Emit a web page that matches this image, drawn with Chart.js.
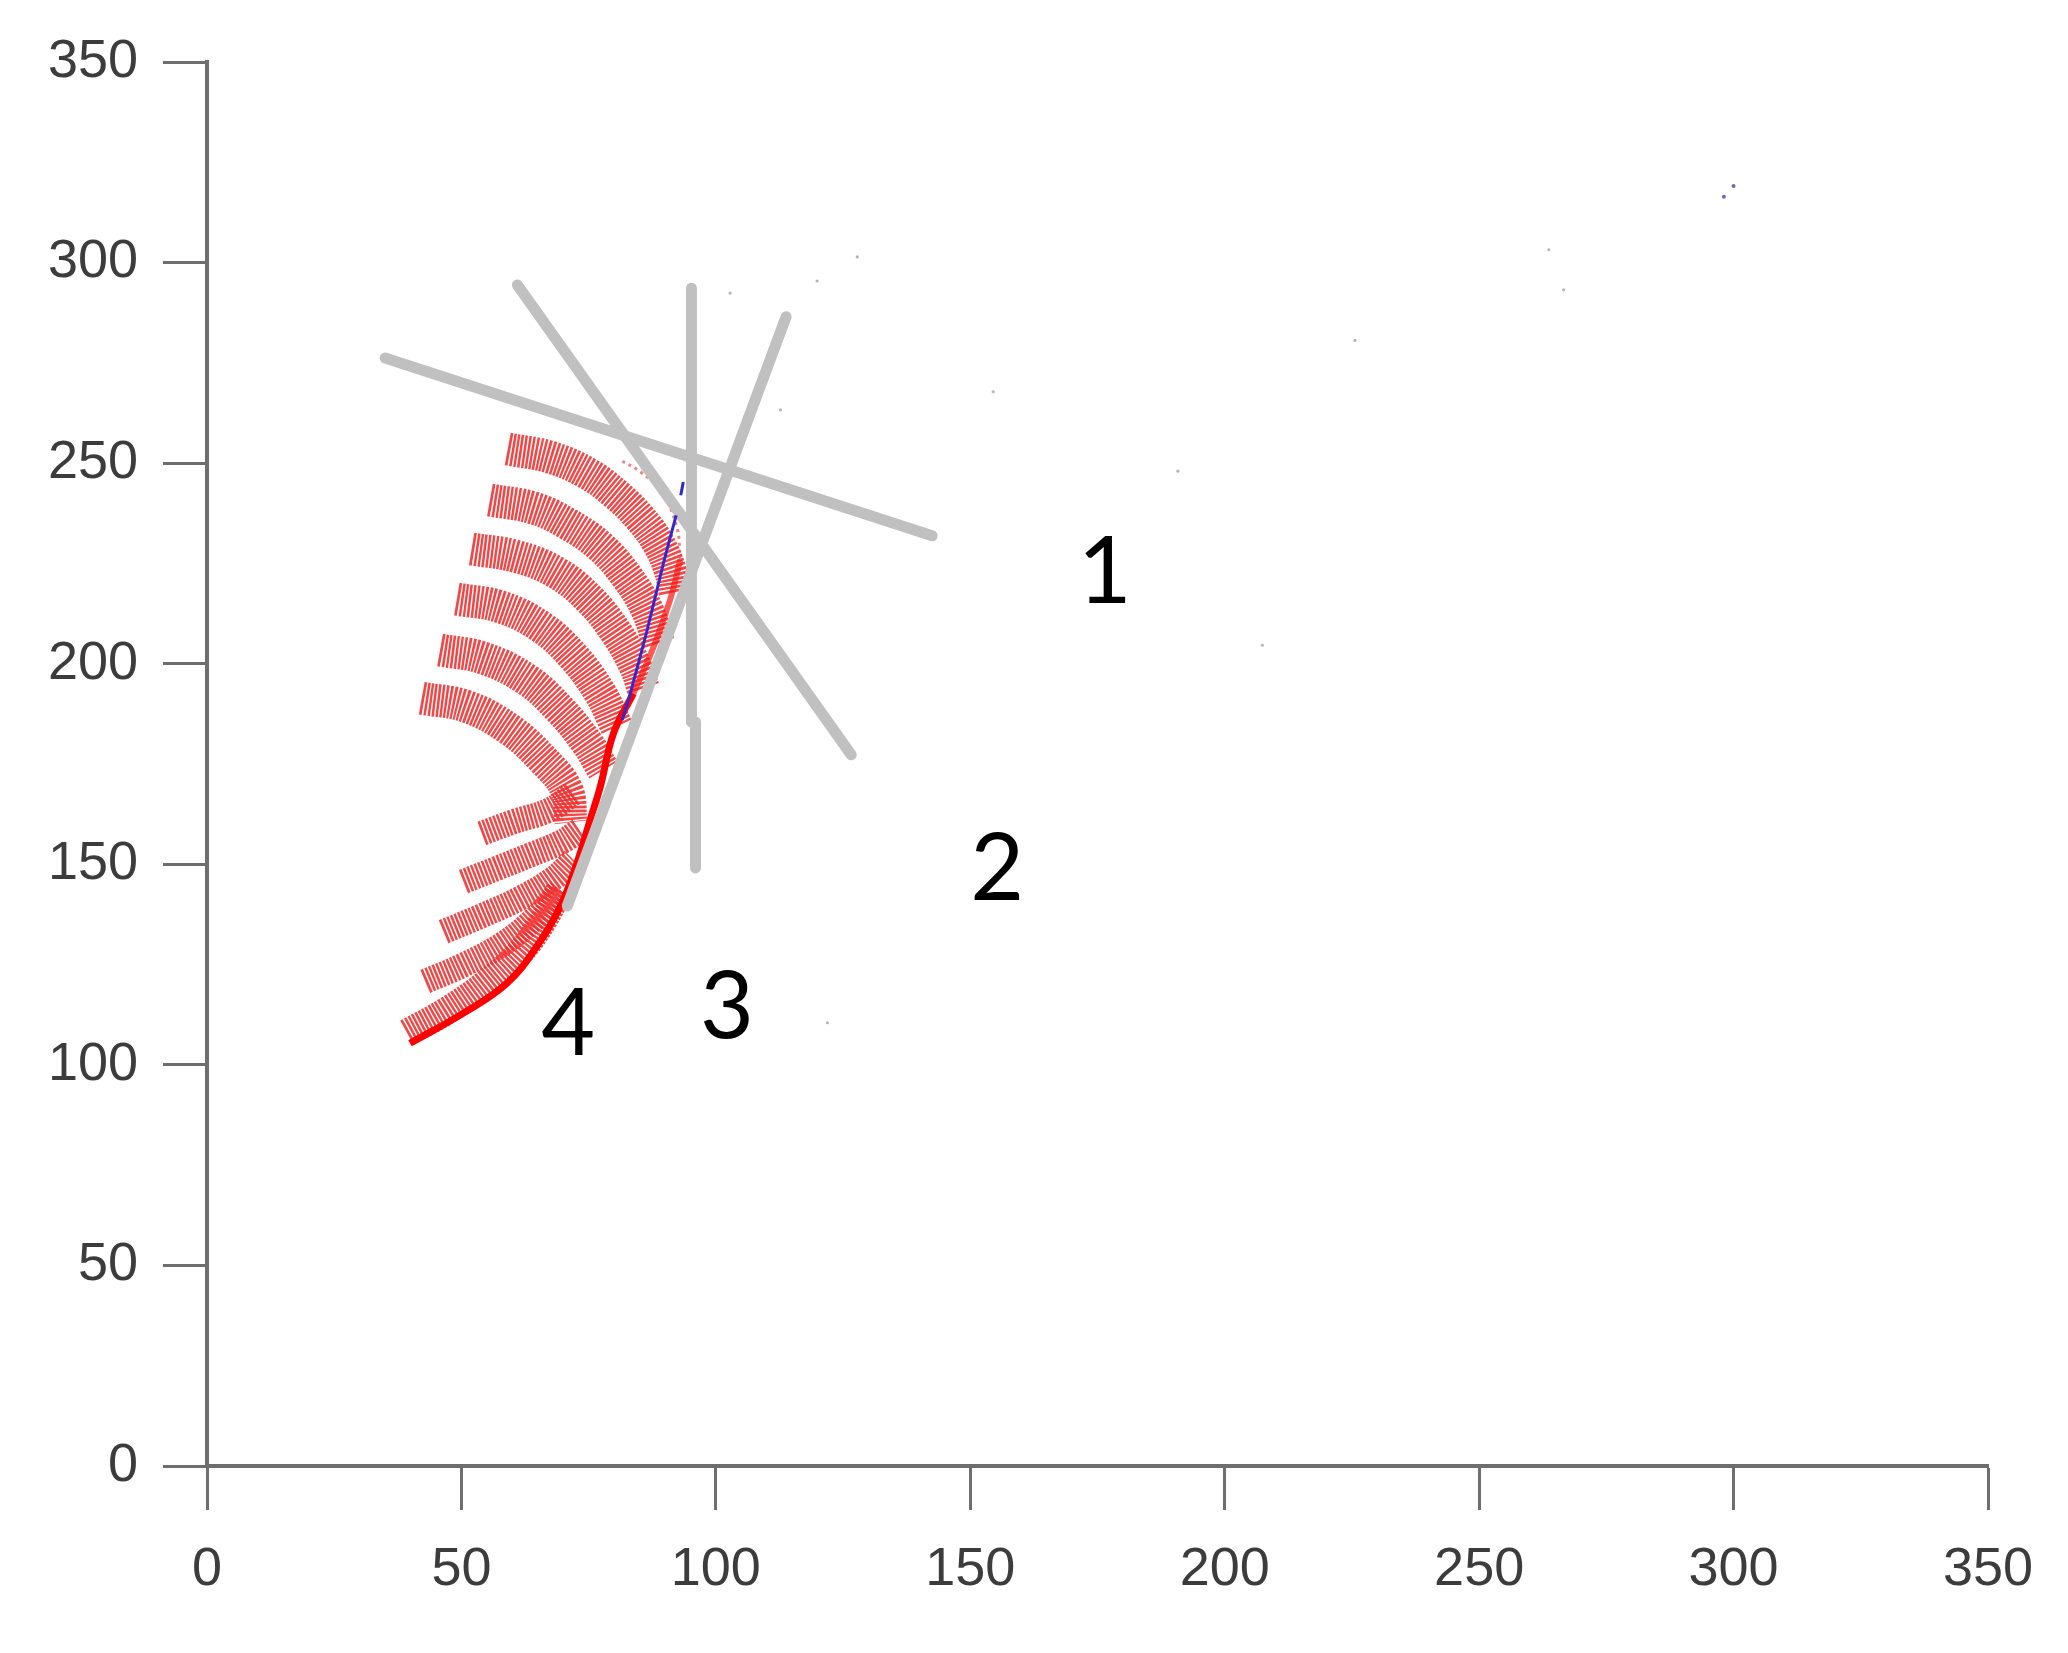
<!DOCTYPE html>
<html>
<head>
<meta charset="utf-8">
<script src="https://cdn.jsdelivr.net/npm/chart.js@4/dist/chart.umd.min.js"></script>
<style>
  html, body { margin: 0; padding: 0; background: #fff; }
</style>
</head>
<body>
<canvas id="beamChart" width="2068" height="1653"></canvas>
<script>
// axis ticks
var tickValues = [0, 50, 100, 150, 200, 250, 300, 350];

// upper family of hatched arcs (x, y)
var upperArc1 = [[59.1,253.5],[67.4,251.5],[74.7,247.5],[80.5,242.1],[85.1,236.3],[88.7,230.0],[91.0,223.4],[92.0,217.6]];
var upperArc2 = [[55.6,240.8],[64.2,238.8],[70.7,235.0],[77.3,229.2],[82.5,221.7],[86.5,213.4],[88.7,205.1]];
var upperArc3 = [[52.0,228.6],[60.9,226.7],[68.8,222.6],[75.3,215.9],[80.5,207.6],[84.2,199.3],[85.8,193.5]];
var upperArc4 = [[49.1,216.1],[57.6,214.2],[65.5,209.3],[72.0,201.8],[77.3,192.6],[80.5,184.3]];
var upperArc5 = [[45.8,203.4],[54.3,201.4],[62.9,196.0],[69.4,188.5],[74.7,180.2],[77.9,173.5]];
var upperArc6 = [[42.2,191.4],[51.1,189.3],[59.6,183.5],[66.1,176.0],[70.7,168.5],[71.5,160.5]];

// lower family of hatched arcs
var lowerArc1 = [[54.0,157.7],[60.2,160.6],[67.4,163.6],[72.0,167.7]];
var lowerArc2 = [[50.4,145.7],[57.0,149.0],[63.5,152.3],[69.7,155.6],[73.3,158.6]];
var lowerArc3 = [[46.5,133.2],[53.7,137.0],[61.5,141.5],[68.1,146.5],[72.0,151.1]];
var lowerArc4 = [[42.9,120.8],[50.4,124.9],[58.3,130.3],[64.8,137.0],[69.4,143.6]];
var lowerArc5 = [[39.3,108.0],[47.1,113.5],[55.0,120.5],[61.5,128.0],[66.1,136.0],[69.4,143.8]];

// dense red edge and its faint continuation
var spineSolid = [[39.9,105.4],[50.4,112.9],[58.9,120.3],[64.8,129.5],[69.4,139.4],[72.7,150.3],[75.3,161.1],[77.3,169.4],[79.9,182.7],[83.8,192.6]];
var spineUpper = [[83.8,192.6],[87.8,204.3],[91.0,215.9],[93.0,225.9]];
var spineFaint = [[93.0,225.9],[92.3,234.2],[89.1,243.3],[85.1,247.9],[81.2,250.8]];

// blue trace (null = gap)
var blueTrace = [[93.6,245.3],[93.1,242.0],[92.7,null],[92.2,237.0],[89.7,225.1],[86.5,208.4],[83.2,192.7],[81.6,186.0]];

// grey reference lines
var grayLine1 = [[35.0,276.2],[142.5,231.9]];
var grayLine2 = [[61.0,294.4],[126.6,177.3]];
var grayLine3 = [[95.2,293.6],[95.2,185.5]];
var grayLine3b = [[96.0,185.5],[96.0,149.1]];
var grayLine4 = [[70.8,139.6],[113.8,286.5]];

// stray points
var faintDots = [[263.7,303.2],[266.6,293.2],[190.8,248.0],[207.4,204.6],[121.9,110.5],[154.5,267.8],[119.9,295.4],[102.8,292.4],[112.7,263.3],[127.8,301.4],[225.6,280.6]];
var blueDots = [[300.0,319.1],[298.1,316.4]];

// region labels
var zoneLabels = ['1', '2', '3', '4'];
var zoneLabelX = [176.4, 155.3, 102.2, 71.0];
var zoneLabelY = [223.4, 149.3, 114.9, 110.7];

function pts(arr) {
    return arr.map(function (p) { return { x: p[0], y: p[1] }; });
}

function hatch(arr, width) {
    return {
        data: pts(arr),
        showLine: true,
        pointRadius: 0,
        borderColor: 'rgba(240, 45, 45, 0.88)',
        borderWidth: width,
        borderDash: [2.5, 1.4],
        borderCapStyle: 'butt',
        tension: 0.4,
        order: 3
    };
}

function grey(arr) {
    return {
        data: pts(arr),
        showLine: true,
        pointRadius: 0,
        borderColor: 'rgb(192, 192, 192)',
        borderWidth: 11,
        borderCapStyle: 'round',
        order: 1
    };
}

var zoneLabelPlugin = {
    id: 'zoneLabels',
    afterDatasetsDraw: function (chart) {
        var ctx = chart.ctx;
        var xs = chart.scales.x, ys = chart.scales.y;
        ctx.save();
        ctx.font = '93px Lato';
        ctx.fillStyle = '#000';
        ctx.textAlign = 'center';
        ctx.textBaseline = 'alphabetic';
        for (var i = 0; i < zoneLabels.length; i++) {
            ctx.fillText(zoneLabels[i], xs.getPixelForValue(zoneLabelX[i]), ys.getPixelForValue(zoneLabelY[i]) + 33);
        }
        ctx.restore();
    }
};

var axisColor = '#6e6e6e';

var ctx = document.getElementById('beamChart').getContext('2d');
var myChart = new Chart(ctx, {
    type: 'scatter',
    data: {
        datasets: [
            hatch(upperArc1, 33), hatch(upperArc2, 33), hatch(upperArc3, 33),
            hatch(upperArc4, 33), hatch(upperArc5, 33), hatch(upperArc6, 33),
            hatch(lowerArc1, 25), hatch(lowerArc2, 25), hatch(lowerArc3, 25),
            hatch(lowerArc4, 25), hatch(lowerArc5, 28),
            { data: pts(spineSolid), showLine: true, pointRadius: 0, borderColor: 'rgb(255, 0, 0)', borderWidth: 7, tension: 0.4, order: 2 },
            { data: pts(spineUpper), showLine: true, pointRadius: 0, borderColor: 'rgba(255, 20, 20, 0.7)', borderWidth: 6, tension: 0.4, order: 2 },
            { data: pts(spineFaint), showLine: true, pointRadius: 0, borderColor: 'rgba(230, 90, 90, 0.75)', borderWidth: 3, borderDash: [3, 4], tension: 0.4, order: 2 },
            grey(grayLine1), grey(grayLine2), grey(grayLine3), grey(grayLine3b), grey(grayLine4),
            { data: pts(blueTrace), showLine: true, spanGaps: false, pointRadius: 0, borderColor: 'rgb(50, 40, 210)', borderWidth: 3, tension: 0.2, order: 0 },
            { data: pts(faintDots), pointRadius: 1.6, pointBorderWidth: 0, backgroundColor: 'rgba(150, 150, 160, 0.7)', order: 0 },
            { data: pts(blueDots), pointRadius: 2, pointBorderWidth: 0, backgroundColor: 'rgba(70, 70, 170, 0.8)', order: 0 }
        ]
    },
    options: {
        responsive: false,
        animation: false,
        events: [],
        layout: { padding: { left: 0, right: 80, top: 62, bottom: 0 } },
        plugins: { legend: { display: false }, tooltip: { enabled: false } },
        scales: {
            x: {
                type: 'linear',
                min: 0,
                max: 350,
                afterBuildTicks: function (s) { s.ticks = tickValues.map(function (v) { return { value: v }; }); },
                afterFit: function (s) { s.height = 187; },
                border: { color: axisColor, width: 4 },
                grid: { drawOnChartArea: false, tickLength: 44, tickWidth: 3, tickColor: axisColor },
                ticks: { padding: 28, color: '#3c3c3c', font: { family: 'Liberation Sans', size: 54 }, maxRotation: 0 }
            },
            y: {
                type: 'linear',
                min: 0,
                max: 350,
                afterBuildTicks: function (s) { s.ticks = tickValues.map(function (v) { return { value: v }; }); },
                afterFit: function (s) { s.width = 207; },
                border: { color: axisColor, width: 4 },
                grid: { drawOnChartArea: false, tickLength: 44, tickWidth: 3, tickColor: axisColor },
                ticks: { padding: 25, color: '#3c3c3c', font: { family: 'Liberation Sans', size: 54 } }
            }
        }
    },
    plugins: [zoneLabelPlugin]
});
</script>
</body>
</html>
